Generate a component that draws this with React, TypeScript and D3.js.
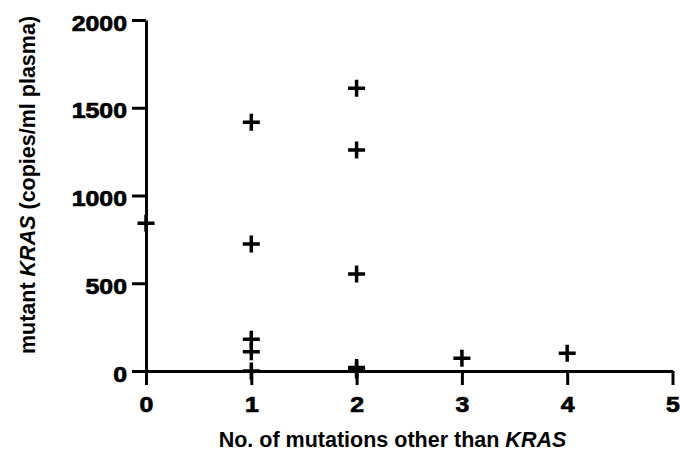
import React, { useRef, useEffect } from "react";
import * as d3 from "d3";

// number of mutations other than KRAS (x) and mutant KRAS copies/ml plasma (y)
const mutationCounts = [0, 1, 1, 1, 1, 1, 2, 2, 2, 2, 2, 3, 4];
const krasCopies = [842, 1417, 724, 181, 110, 0, 1611, 1259, 553, 20, 5, 72, 101];

const xTicks = [0, 1, 2, 3, 4, 5];
const yTicks = [0, 500, 1000, 1500, 2000];

const FONT = "'Liberation Sans', Arial, Helvetica, sans-serif";

export default function App() {
  const svgRef = useRef<SVGSVGElement>(null);

  useEffect(() => {
    const width = 680;
    const height = 457;
    const stretch = 1.13; // tick labels are drawn a bit wide

    const svg = d3.select(svgRef.current).attr("width", width).attr("height", height);
    svg.selectAll("*").remove();

    const x = d3.scaleLinear().domain([0, 5]).range([146, 672.5]);
    const y = d3.scaleLinear().domain([0, 2000]).range([371, 20]);

    // ─── Y axis ──────────────────────────────────────────────
    const gy = svg.append("g")
      .attr("transform", `translate(${x(0)},0)`)
      .call(d3.axisLeft(y).tickValues(yTicks).tickFormat(d3.format("d")).tickSize(14).tickSizeOuter(0));
    gy.select(".domain").attr("stroke", "#000").attr("stroke-width", 3);
    gy.selectAll(".tick line").attr("stroke", "#000").attr("stroke-width", 3);
    gy.selectAll(".tick text")
      .attr("x", -19 / stretch)
      .attr("dy", 0)
      .attr("y", 10)
      .attr("transform", `scale(${stretch},1)`)
      .attr("fill", "#000")
      .attr("stroke", "#000")
      .attr("stroke-width", 0.7)
      .style("font-family", FONT)
      .style("font-size", "22px")
      .style("font-weight", "bold");

    // ─── X axis ──────────────────────────────────────────────
    const gx = svg.append("g")
      .attr("transform", `translate(0,${y(0)})`)
      .call(d3.axisBottom(x).tickValues(xTicks).tickFormat(d3.format("d")).tickSize(14).tickSizeOuter(0));
    gx.select(".domain").attr("stroke", "#000").attr("stroke-width", 3);
    gx.selectAll(".tick line").attr("stroke", "#000").attr("stroke-width", 3);
    gx.selectAll(".tick text")
      .attr("y", 41)
      .attr("dy", 0)
      .attr("transform", `scale(${stretch},1)`)
      .attr("fill", "#000")
      .attr("stroke", "#000")
      .attr("stroke-width", 0.7)
      .style("font-family", FONT)
      .style("font-size", "22px")
      .style("font-weight", "bold");

    // ─── Axis titles ─────────────────────────────────────────
    const xTitle = svg.append("text")
      .attr("x", 392.5)
      .attr("y", 447)
      .attr("text-anchor", "middle")
      .style("font-family", FONT)
      .style("font-size", "21.5px")
      .style("font-weight", "bold");
    xTitle.append("tspan").text("No. of mutations other than ");
    xTitle.append("tspan").style("font-style", "italic").text("KRAS");

    const yTitle = svg.append("text")
      .attr("transform", "translate(35,185) rotate(-90)")
      .attr("text-anchor", "middle")
      .style("font-family", FONT)
      .style("font-size", "21.5px")
      .style("font-weight", "bold");
    yTitle.append("tspan").text("mutant ");
    yTitle.append("tspan").style("font-style", "italic").text("KRAS");
    yTitle.append("tspan").text(" (copies/ml plasma)");

    // ─── Points (plus markers) ───────────────────────────────
    const points = mutationCounts.map((m, i) => ({ m, v: krasCopies[i] }));
    svg.append("g")
      .selectAll("path")
      .data(points)
      .join("path")
      .attr("transform", (d) => `translate(${x(d.m)},${y(d.v)})`)
      .attr("d", "M-8.5,0H8.5M0,-8.5V8.5")
      .attr("stroke", "#000")
      .attr("stroke-width", 3.5)
      .attr("fill", "none");
  }, []);

  return (
    <svg
      ref={svgRef}
      style={{ position: "absolute", left: 0, top: 0, background: "#fff" }}
    />
  );
}
